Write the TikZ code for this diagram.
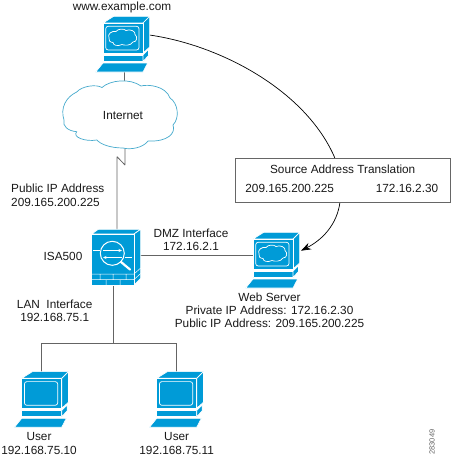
\documentclass[tikz,border=0pt]{standalone}
\usepackage{fontspec}
\setmainfont{Liberation Sans}
\usetikzlibrary{arrows.meta}
\definecolor{ciscoblue}{RGB}{0,155,215}
\definecolor{cloudline}{RGB}{70,170,205}
\definecolor{linegray}{RGB}{100,100,100}
\tikzset{
  x=1pt,y=-1pt,
  label text/.style={font=\fontsize{11.8}{13.2}\selectfont,align=center,inner sep=0pt,text=black!90},
  face/.style={fill=ciscoblue,draw=white,line width=0.7pt,line join=round},
  conn/.style={draw=linegray,line width=0.8pt},
  pics/pcbody/.style={code={
    \path[face] (0,0)--(10.7,-6.7)--(46.7,-6.7)--(40,0)--cycle;
    \path[face] (40,0)--(46.7,-6.7)--(46.7,24)--(40,30)--cycle;
    \path[face] (0,0) rectangle (40,30);
    \path[face] (0,32) rectangle (40,38.5);
    \path[face] (40,32)--(45.5,26.5)--(45.5,32.5)--(40,38.5)--cycle;
    \path[face] (0,40)--(44.7,40)--(40,49)--(-7.3,49)--cycle;
    \draw[white,line width=0.7pt,rounded corners=2.5pt] (2.7,3.3) rectangle (36,27);
  }},
  pics/smallcloud/.style={code={
    \draw[white,line width=0.7pt] (6,15)
      .. controls (4,11) and (9,7.5) .. (13,8.5)
      .. controls (15,5.5) and (21,5.5) .. (23,7.5)
      .. controls (27,5.5) and (33,8.5) .. (32,11.5)
      .. controls (35,14) and (34,19) .. (30,19)
      .. controls (28,23) and (21,22.5) .. (19,21.5)
      .. controls (15,23.5) and (10,22.5) .. (10,19.5)
      .. controls (7,19.5) and (5,17) .. (6,15) -- cycle;
  }}
}
\begin{document}
\begin{tikzpicture}
\useasboundingbox (0,0) rectangle (452,460);
% coordinates
\coordinate (srcpc) at (124.5,72);
\coordinate (srcside) at (149.3,35);
\coordinate (fwright) at (134,255.7);
\coordinate (fwbottom) at (113.5,285);
\coordinate (srvleft) at (253,255.7);
\coordinate (srvright) at (301,250.7);
\coordinate (junction) at (113.5,343);
\coordinate (u1top) at (41,378);
\coordinate (u2top) at (176,378);
% connectors (behind)
\draw[conn] (srcpc) -- (124.5,84);
\draw[conn,line join=bevel] (125,146) -- (125,165) -- (117,156.7) -- (117,231);
\draw[conn] (fwright) -- (srvleft);
\draw[conn] (fwbottom) -- (junction);
\draw[conn] (u1top) -- (41,343) -- (176,343) -- (u2top);
\draw[draw=black,line width=0.7pt,-{Stealth[length=10pt,width=7pt]}] (srcside)
  .. controls (220,45) and (305,90) .. (334.3,156.7)
  .. controls (340,170) and (342,185) .. (340,202)
  .. controls (337,225) and (322,240) .. (srvright);
% cloud
\draw[cloudline,fill=white,line width=0.7pt] (64,120)
  .. controls (60,108) and (66,97) .. (76.7,92)
  .. controls (82,86) and (96,84) .. (102,87.5)
  .. controls (110,80) and (130,78) .. (141,86)
  .. controls (148,84) and (166,86) .. (170,98)
  .. controls (178,103) and (180,118) .. (173,125)
  .. controls (176,133) and (168,142) .. (148,141)
  .. controls (143,148) and (130,150) .. (123,148)
  .. controls (110,148) and (100,144) .. (97,140)
  .. controls (85,142) and (72,137) .. (76.7,131.7)
  .. controls (68,131) and (62,126) .. (64,120) -- cycle;
\node[label text] (internet) at (123,115) {Internet};
% translation box
\node[draw=black!60,fill=white,line width=0.8pt,minimum width=215pt,minimum height=44pt,inner sep=0pt] (box) at (343.2,180.3) {};
\node[label text] (satitle) at (342.7,169) {Source Address Translation};
\node[label text] (sapub) at (289.7,188) {209.165.200.225};
\node[label text] (sapriv) at (407,188) {172.16.2.30};
% computers
\pic at (103,23) {pcbody};
\pic at (103,23) {smallcloud};
\pic at (253,239) {pcbody};
\pic at (253,239) {smallcloud};
\pic at (21.7,378.3) {pcbody};
\pic at (156.7,378.3) {pcbody};
% firewall
\path[face] (91.7,234)--(98.3,229.3)--(140.7,229.3)--(134,234)--cycle;
\path[face] (134,234)--(140.7,229.3)--(140.7,278.3)--(134,285)--cycle;
\path[face] (91.7,234) rectangle (134,285);
\draw[white,line width=0.5pt] (91.7,274)--(134,274) (91.7,279.5)--(134,279.5)
  (100,274)--(100,279.5) (113,274)--(113,279.5) (126,274)--(126,279.5)
  (106,279.5)--(106,285) (120,279.5)--(120,285)
  (134,274)--(140.7,268) (134,279.5)--(140.7,273.5);
\draw[white,line width=0.5pt] (93,250.5)--(100,250.5) (125,257.5)--(132,257.5);
\draw[white,line width=1pt] (112.3,253.3) circle (12);
\draw[white,line width=2.2pt,line cap=round] (121,262) -- (130,269.5);
\draw[white,line width=0.7pt,-{Stealth[length=3.5pt,width=3pt]}] (103,250.5)--(122,250.5);
\draw[white,line width=0.7pt,-{Stealth[length=3.5pt,width=3pt]}] (122,257.5)--(103,257.5);
% labels
\node[label text] (www) at (122,7) {www.example.com};
\node[label text,align=left,anchor=west] (pub) at (11,195.3) {Public IP Address\\209.165.200.225};
\node[label text] (isa) at (63,256) {ISA500};
\node[label text] (lan) at (54.7,310.5) {LAN\ \ Interface\\192.168.75.1};
\node[label text] (dmz) at (191,239.5) {DMZ Interface\\172.16.2.1};
\node[label text] (srv) at (269.5,310.5) {Web Server\\Private IP Address: 172.16.2.30\\Public IP Address: 209.165.200.225};
\node[label text] (u1) at (39,443.5) {User\\192.168.75.10};
\node[label text] (u2) at (176.7,443.5) {User\\192.168.75.11};
\node[font=\fontsize{7.5}{8}\selectfont,rotate=90,inner sep=0pt,text=black!60] (code) at (432,442) {283049};
\end{tikzpicture}
\end{document}
